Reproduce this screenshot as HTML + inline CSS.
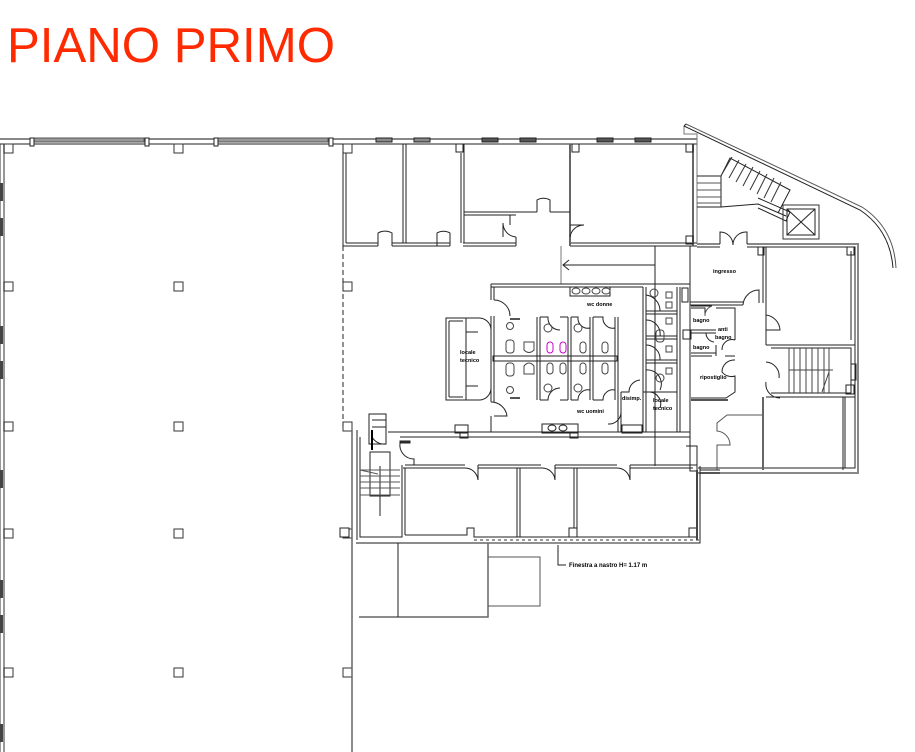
<!DOCTYPE html>
<html><head><meta charset="utf-8">
<style>
html,body{margin:0;padding:0;background:#fff;}
svg{display:block;}
text{font-family:"Liberation Sans",sans-serif;}
</style></head>
<body>
<svg width="915" height="752" viewBox="0 0 915 752" xmlns="http://www.w3.org/2000/svg">
<rect width="915" height="752" fill="#fff"/>
<text x="7" y="62" font-size="49.2" fill="#ff2a00">PIANO PRIMO</text>

<g fill="none" stroke="#222" stroke-width="1">
<line x1="0" y1="139" x2="697" y2="139" stroke="#888" stroke-width="2"/>
<line x1="0" y1="144" x2="697" y2="144"/>
<rect x="34" y="138" width="110" height="4" fill="#999" stroke="#555"/>
<rect x="218" y="138" width="110" height="4" fill="#999" stroke="#555"/>
<rect x="30" y="138" width="4" height="8" fill="#fff"/>
<rect x="145" y="138" width="4" height="8" fill="#fff"/>
<rect x="214" y="138" width="4" height="8" fill="#fff"/>
<rect x="329" y="138" width="4" height="8" fill="#fff"/>
<rect x="376" y="138" width="16" height="4" fill="#888"/>
<rect x="414" y="138" width="16" height="4" fill="#888"/>
<rect x="482" y="138" width="16" height="4" fill="#555"/>
<rect x="520" y="138" width="16" height="4" fill="#555"/>
<rect x="597" y="138" width="16" height="4" fill="#555"/>
<rect x="635" y="138" width="16" height="4" fill="#555"/>

<line x1="4" y1="144" x2="4" y2="752" stroke="#777" stroke-width="1.5"/>
<line x1="0" y1="144" x2="0" y2="752" stroke="#333"/>
<g fill="#444" stroke="none">
<rect x="0" y="183" width="3" height="18"/><rect x="0" y="218" width="3" height="18"/>
<rect x="0" y="326" width="3" height="18"/><rect x="0" y="361" width="3" height="18"/>
<rect x="0" y="470" width="3" height="18"/><rect x="0" y="580" width="3" height="18"/>
<rect x="0" y="615" width="3" height="18"/><rect x="0" y="724" width="3" height="18"/>
</g>
<g stroke="#333">
<rect x="4" y="144" width="9" height="9"/><rect x="174" y="144" width="9" height="9"/><rect x="343" y="144" width="9" height="9"/>
<rect x="4" y="282" width="9" height="9"/><rect x="174" y="282" width="9" height="9"/><rect x="343" y="282" width="9" height="9"/>
<rect x="4" y="422" width="9" height="9"/><rect x="174" y="422" width="9" height="9"/><rect x="343" y="422" width="9" height="9"/>
<rect x="4" y="529" width="9" height="9"/><rect x="174" y="529" width="9" height="9"/><rect x="343" y="529" width="9" height="9"/>
<rect x="4" y="668" width="9" height="9"/><rect x="174" y="668" width="9" height="9"/><rect x="343" y="668" width="9" height="9"/>
</g>

<line x1="343" y1="144" x2="343" y2="246"/>
<line x1="346" y1="153" x2="346" y2="243"/>
<line x1="346" y1="243" x2="378" y2="243"/><line x1="343" y1="246" x2="378" y2="246"/>
<line x1="392" y1="243" x2="450" y2="243"/><line x1="392" y1="246" x2="450" y2="246"/>
<line x1="463" y1="243" x2="516" y2="243"/><line x1="463" y1="246" x2="516" y2="246"/>
<line x1="516" y1="237" x2="516" y2="246"/>
<line x1="570" y1="243" x2="697" y2="243"/><line x1="570" y1="246" x2="697" y2="246"/>
<line x1="403" y1="144" x2="403" y2="243"/><line x1="406" y1="144" x2="406" y2="243"/>
<line x1="461" y1="153" x2="461" y2="243"/><line x1="464" y1="144" x2="464" y2="243"/>
<line x1="570" y1="144" x2="570" y2="246" stroke="#666" stroke-width="2"/>
<line x1="464" y1="212" x2="537" y2="212"/><line x1="464" y1="215" x2="516" y2="215"/>
<line x1="550" y1="212" x2="570" y2="212"/><line x1="510" y1="215" x2="510" y2="225"/>
<line x1="693" y1="144" x2="693" y2="246" stroke="#666" stroke-width="2"/>
<rect x="456" y="144" width="7" height="8"/><rect x="572" y="144" width="7" height="8"/><rect x="686" y="144" width="7" height="8"/><rect x="686" y="236" width="7" height="8"/>
<path d="M378 246 V233 A14 14 0 0 1 392 233 V246"/>
<path d="M437 246 V233 A13 13 0 0 1 450 233 V246"/>
<path d="M516 237 A14 14 0 0 1 503 223 V237"/>
<path d="M537 212 V200 A13 13 0 0 1 550 200 V212"/>
<path d="M570 237 A14 14 0 0 1 584 225 H570"/>
<line x1="343" y1="246" x2="343" y2="430" stroke-dasharray="5,3"/>
<line x1="561" y1="246" x2="561" y2="284" stroke="#777"/>
<line x1="563" y1="265" x2="655" y2="265"/>
<path d="M569 260 L563 265 L569 270"/>
<line x1="655" y1="246" x2="655" y2="466"/>

<path d="M684 126 L684 134 L697 134 L697 244" stroke="#777"/>
<path d="M684 126 L860 210 Q890 230 893 268"/>
<path d="M686 124 L862 207 Q894 228 896 268" stroke="#555"/>
<line x1="686" y1="124" x2="684" y2="126"/>
<path d="M697 176 H721 V207 H697"/>
<g stroke="#555"><line x1="697" y1="183" x2="721" y2="183"/><line x1="697" y1="190" x2="721" y2="190"/><line x1="697" y1="197" x2="721" y2="197"/><line x1="697" y1="203" x2="721" y2="203"/></g>
<path d="M721 176 L730 158 L790 190 L778 213"/>
<g stroke="#333"><line x1="732" y1="157" x2="722" y2="174"/><line x1="739" y1="160" x2="729" y2="178"/><line x1="746" y1="164" x2="736" y2="182"/><line x1="753" y1="167" x2="743" y2="186"/><line x1="760" y1="171" x2="750" y2="190"/><line x1="767" y1="174" x2="757" y2="194"/><line x1="774" y1="178" x2="764" y2="198"/><line x1="781" y1="182" x2="771" y2="202"/></g>
<path d="M721 207 L758 204 L786 216"/>
<path d="M758 198 L790 212 L786 221 L758 208"/>
<rect x="783" y="205" width="36" height="34" stroke="#333"/>
<rect x="787" y="209" width="28" height="26"/>
<line x1="787" y1="209" x2="815" y2="235"/><line x1="815" y1="209" x2="787" y2="235"/>

<path d="M697 244 H720 M747 244 H858 V473 H697" stroke="#888" stroke-width="2"/>
<path d="M697 247 H720 M747 247 H855 V468 H698"/>
<path d="M720 244 V232 A13 13 0 0 1 733 245 A13 13 0 0 1 747 232 V244"/>
<line x1="690" y1="246" x2="690" y2="470"/>
<rect x="758" y="247" width="6" height="8"/><rect x="847" y="247" width="7" height="8"/>
<line x1="763" y1="247" x2="763" y2="303"/><line x1="766" y1="247" x2="766" y2="345"/>
<line x1="851" y1="251" x2="851" y2="340"/>
<line x1="690" y1="302" x2="743" y2="302"/><line x1="690" y1="305" x2="743" y2="305"/>
<path d="M743 305 A16 16 0 0 1 759 290 V303"/>
<path d="M766 315 A16 16 0 0 1 780 330 H766"/>
<path d="M691 306 H712 M691 308 H705 V316 M716 308 H735 V340"/>
<path d="M705 316 A10 10 0 0 1 712 306" stroke="#555"/>
<line x1="691" y1="330" x2="716" y2="330"/><line x1="691" y1="333" x2="716" y2="333"/>
<path d="M706 333 A9 9 0 0 0 714 342"/>
<line x1="691" y1="356" x2="712" y2="356"/><line x1="725" y1="356" x2="735" y2="356"/>
<line x1="691" y1="353" x2="716" y2="353"/><line x1="716" y1="345" x2="716" y2="356"/>
<path d="M735 340 A10 10 0 0 0 722 350"/>
<path d="M735 360 A12 12 0 0 0 722 372 A12 12 0 0 0 735 376 V392 L726 398 H691"/>
<line x1="691" y1="400" x2="728" y2="400" stroke="#555" stroke-width="2"/>
<rect x="683" y="330" width="8" height="9"/>
<path d="M766 345 H855 M766 397 H855"/>
<path d="M771 348 H851 V393 H771"/>
<g stroke="#444"><line x1="789" y1="348" x2="789" y2="393"/><line x1="794" y1="348" x2="794" y2="393"/><line x1="800" y1="348" x2="800" y2="393"/><line x1="806" y1="348" x2="806" y2="393"/><line x1="812" y1="348" x2="812" y2="393"/><line x1="818" y1="348" x2="818" y2="393"/><line x1="824" y1="348" x2="824" y2="393"/><line x1="829" y1="348" x2="829" y2="393"/><line x1="789" y1="370" x2="833" y2="370"/><line x1="822" y1="392" x2="829" y2="372"/></g>
<path d="M766 362 A14 14 0 0 1 779 378 M766 382 A14 14 0 0 0 780 398"/>
<rect x="846" y="385" width="8" height="9"/><rect x="851" y="364" width="5" height="16"/>
<line x1="763" y1="397" x2="763" y2="470" stroke="#666" stroke-width="2"/>
<line x1="843" y1="397" x2="843" y2="470"/><line x1="845" y1="397" x2="845" y2="468"/>
<path d="M727 415 L717 423 V431 A14 14 0 0 1 730 445 H717 V470" stroke="#555"/>
<line x1="727" y1="415" x2="763" y2="415" stroke="#555"/>

<path d="M491 284 H690 M491 287 H643"/>
<path d="M491 284 V300 M494 287 V300"/>
<path d="M494 300 A16 16 0 0 1 510 316 M491 316 V318"/>
<path d="M491 316 V402 M494 316 V402"/>
<path d="M491 402 A16 16 0 0 1 507 416 H494 M491 416 V432"/>
<rect x="446" y="318" width="20" height="82"/>
<path d="M449 321 H463 M449 397 H463 M449 321 V397 M466 318 V332 M466 386 V400 M466 332 H478 M466 386 H478 M466 318 H478 M466 400 H478"/>
<path d="M478 318 A12 12 0 0 1 491 330 M478 400 A12 12 0 0 0 491 388"/>
<rect x="493" y="356" width="124" height="5"/>
<line x1="537" y1="317" x2="537" y2="400"/><line x1="540" y1="317" x2="540" y2="400"/>
<line x1="568" y1="317" x2="568" y2="400"/><line x1="571" y1="317" x2="571" y2="400"/>
<line x1="590" y1="317" x2="590" y2="400"/><line x1="593" y1="317" x2="593" y2="400"/>
<line x1="615" y1="317" x2="615" y2="400"/><line x1="618" y1="317" x2="618" y2="400"/>
<path d="M540 317 H548 A12 12 0 0 0 560 330 M560 317 H568 M571 317 H578 A10 10 0 0 0 590 328 M593 317 H603 A10 10 0 0 0 615 328"/>
<path d="M540 400 H548 A12 12 0 0 1 560 388 M560 400 H568 M571 400 H578 A10 10 0 0 1 590 390 M593 400 H603 A10 10 0 0 1 615 390"/>
<path d="M510 319 H520 M510 398 H520" stroke="#555" stroke-width="2"/>
<line x1="643" y1="287" x2="643" y2="392"/><line x1="646" y1="287" x2="646" y2="392"/>
<line x1="677" y1="287" x2="677" y2="432"/><line x1="680" y1="287" x2="680" y2="432"/>
<path d="M646 311 H677 M646 314 H677 M646 336 H677 M646 339 H677 M646 360 H677 M646 363 H677"/>
<path d="M646 295 A16 16 0 0 1 660 311 M646 320 A14 14 0 0 1 660 336 M646 345 A14 14 0 0 1 660 360 M646 370 A14 14 0 0 1 660 390"/>
<rect x="682" y="288" width="6" height="14"/>
<rect x="570" y="287" width="40" height="9"/>
<g stroke="#444">
<ellipse cx="576" cy="291" rx="4" ry="3"/><ellipse cx="586" cy="291" rx="4" ry="3"/><ellipse cx="596" cy="291" rx="4" ry="3"/><ellipse cx="606" cy="291" rx="4" ry="3"/>
<circle cx="510" cy="326" r="3.5"/><rect x="506" y="340" width="8" height="13" rx="3"/><rect x="506" y="363" width="8" height="13" rx="3"/><circle cx="510" cy="390" r="3.5"/>
<path d="M524 342 H534 V350 Q529 355 524 350 Z"/><path d="M524 374 H534 V366 Q529 360 524 366 Z"/>
<rect x="560" y="342" width="6" height="11" rx="3" stroke="#c0c"/><rect x="547" y="342" width="6" height="11" rx="3" stroke="#c0c"/>
<rect x="547" y="363" width="6" height="11" rx="3"/><rect x="560" y="363" width="6" height="11" rx="3"/>
<rect x="580" y="342" width="6" height="11" rx="3"/><rect x="580" y="363" width="6" height="11" rx="3"/>
<rect x="602" y="342" width="6" height="11" rx="3"/><rect x="602" y="363" width="6" height="11" rx="3"/>
<circle cx="548" cy="328" r="4"/><circle cx="548" cy="388" r="4"/><circle cx="578" cy="328" r="4"/><circle cx="578" cy="388" r="4"/>
<circle cx="654" cy="293" r="4"/><rect x="666" y="292" width="6" height="6"/><rect x="666" y="302" width="6" height="6"/><rect x="666" y="318" width="6" height="6"/><rect x="656" y="330" width="8" height="12" rx="3"/><rect x="666" y="346" width="6" height="6"/><rect x="666" y="368" width="6" height="6"/><circle cx="660" cy="378" r="4"/>
</g>
<path d="M618 400 V432 M621 392 V432 M643 392 V432 M646 392 V432"/>
<path d="M621 392 H629 A12 12 0 0 1 640 380 M643 392 H650 A12 12 0 0 1 660 408 M621 412 A12 12 0 0 1 608 424"/>
<path d="M646 392 H677"/>
<rect x="622" y="425" width="20" height="8"/>
<path d="M388 432 H690 M400 437 H690 M690 432 V446 M686 446 H697 V466" />
<rect x="455" y="425" width="13" height="8"/><rect x="460" y="432" width="8" height="6"/>
<rect x="542" y="424" width="36" height="9"/>
<ellipse cx="552" cy="428" rx="4" ry="3"/><ellipse cx="563" cy="428" rx="4" ry="3"/>
<rect x="570" y="432" width="8" height="6"/>
<rect x="369" y="414" width="17" height="30"/>
<line x1="372" y1="420" x2="386" y2="420"/><line x1="372" y1="427" x2="386" y2="427"/>
<path d="M386 444 A14 14 0 0 1 372 437" />
<line x1="372" y1="430" x2="372" y2="450" stroke="#000" stroke-width="2"/>
<path d="M400 443 H410 M400 443 A14 14 0 0 0 414 459 V465"/>
<rect x="400" y="441" width="10" height="2" fill="#333"/>
<path d="M360 437 V537 H402 V465"/>
<rect x="370" y="452" width="20" height="44"/>
<line x1="380" y1="466" x2="380" y2="516"/>
<g stroke="#555"><line x1="360" y1="470" x2="400" y2="470"/><line x1="360" y1="476" x2="400" y2="476"/><line x1="360" y1="482" x2="400" y2="482"/><line x1="360" y1="488" x2="400" y2="488"/><line x1="360" y1="495" x2="400" y2="495"/><line x1="360" y1="470" x2="378" y2="474"/></g>
<line x1="352" y1="430" x2="352" y2="752" stroke="#666" stroke-width="1.5"/>
<line x1="357" y1="430" x2="357" y2="540"/>
<rect x="340" y="528" width="9" height="9" fill="#fff"/>
<path d="M405 465 H465 M478 465 H541 M555 465 H617 M630 465 H697"/>
<path d="M403 468 H465 M478 468 H541 M555 468 H617 M630 468 H693"/>
<path d="M465 468 A13 13 0 0 1 478 480 V465 M541 468 A13 13 0 0 1 555 480 V465 M617 468 A13 13 0 0 1 630 480 V465"/>
<line x1="405" y1="468" x2="405" y2="535"/>
<line x1="517" y1="468" x2="517" y2="537"/><line x1="520" y1="468" x2="520" y2="537"/>
<line x1="574" y1="468" x2="574" y2="528"/><line x1="577" y1="468" x2="577" y2="537"/>
<path d="M405 535 H467 V528 H474 V537 H698 M474 543 H700 V466" />
<line x1="474" y1="540" x2="700" y2="540" stroke="#333" stroke-dasharray="3,3"/>
<rect x="569" y="528" width="8" height="9"/><rect x="689" y="528" width="8" height="9"/><rect x="690" y="465" width="7" height="6"/>
<line x1="697" y1="470" x2="697" y2="540" stroke="#444" stroke-width="2"/>
<line x1="700" y1="470" x2="720" y2="470"/><line x1="700" y1="473" x2="720" y2="473"/>
<path d="M356 543 H488 V617 H359" stroke="#666" stroke-width="1.5"/>
<line x1="398" y1="543" x2="398" y2="617"/>
<path d="M488 557 H540 V606 H488" stroke="#555"/>
<path d="M558 545 V565 H566"/>
</g>

<g font-size="5.5" fill="#000" font-weight="bold">
<text x="587" y="306">wc donne</text>
<text x="460" y="354">locale</text><text x="460" y="362">tecnico</text>
<text x="577" y="413">wc uomini</text>
<text x="622" y="400">disimp.</text>
<text x="653" y="402">locale</text><text x="653" y="410">tecnico</text>
<text x="713" y="273">ingresso</text>
<text x="693" y="322">bagno</text>
<text x="718" y="331">anti</text><text x="715" y="339">bagno</text>
<text x="693" y="349">bagno</text>
<text x="700" y="379">ripostiglio</text>
<text x="569" y="567" font-size="6">Finestra a nastro H= 1.17 m</text>
</g>
</svg>
</body></html>
